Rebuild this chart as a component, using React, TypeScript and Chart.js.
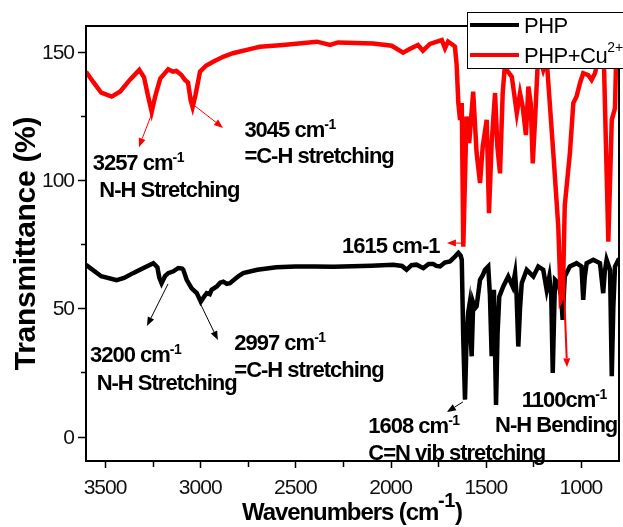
import React, { useEffect, useRef } from 'react';
import { Chart, registerables } from 'chart.js';

Chart.register(...registerables);

// ---- data ----
const phpWavenumbers = [
  3600, 3520, 3439, 3400, 3353, 3290, 3246, 3225, 3215, 3203, 3185, 3168, 3141, 3115, 3095, 3089, 3071, 3045,
  3018, 2997, 2980, 2966, 2950, 2940, 2913, 2895, 2879, 2860, 2844, 2800, 2774, 2700, 2600, 2500, 2400, 2300,
  2100, 1986, 1940, 1916, 1890, 1863, 1845, 1828, 1800, 1776, 1760, 1740, 1715, 1688, 1670, 1653, 1644, 1632,
  1626, 1618, 1609, 1601, 1593, 1587, 1574, 1566, 1557, 1548, 1530, 1515, 1504, 1487, 1478, 1469, 1462, 1457,
  1446, 1438, 1429, 1408, 1382, 1359, 1346, 1338, 1329, 1320, 1311, 1285, 1265, 1250, 1224, 1198, 1180, 1166,
  1156, 1148, 1140, 1136, 1119, 1104, 1096, 1090, 1085, 1058, 1023, 997, 988, 980, 970, 935, 900, 883, 875, 865,
  847, 838, 830, 821, 803, 800,
];
const phpTransmittance = [
  66.9, 62.5, 61, 61.8, 63.7, 66, 67.6, 66, 62, 59.8, 62.5, 63.7, 64.4, 65.7, 65.5, 65, 61.1, 57.8,
  55.9, 52.6, 54.5, 55.9, 55.5, 57.2, 58.5, 60, 60.4, 59.5, 59.8, 62.5, 63.7, 65, 66, 66.3, 66.3, 66.2,
  66.6, 67, 66.5, 65, 66.8, 67, 66.3, 65.7, 67.3, 67.3, 66.5, 66.3, 67.8, 68.3, 69.5, 70.9, 71.6, 70.5,
  69, 37.8, 14.4, 37.8, 48, 50.8, 31.3, 52.1, 50, 50.8, 61.1, 63, 65, 66.3, 55, 31.3, 50, 57.2,
  12.3, 40, 54.5, 58.5, 62.4, 58.5, 63.7, 55, 35.1, 50, 59.8, 65, 63.5, 62.4, 66.3, 65, 57.2, 62.4,
  55, 24.8, 50, 61.1, 59.8, 55, 45.5, 55, 62.4, 66.3, 67.6, 66.3, 53.3, 62, 67.6, 68.9, 67.6, 55.9, 64, 68.9,
  65, 23.5, 50, 66.3, 68.9, 69,
];

const cuWavenumbers = [
  3600, 3560, 3520, 3465, 3420, 3370, 3320, 3295, 3275, 3255, 3235, 3210, 3168, 3143, 3125, 3100, 3080, 3064,
  3050, 3040, 3025, 3001, 2970, 2932, 2880, 2828, 2723, 2686, 2565, 2387, 2318, 2276, 2092, 1994, 1934, 1900,
  1856, 1830, 1793, 1731, 1714, 1698, 1672, 1662, 1653, 1644, 1635, 1629, 1626, 1618, 1601, 1587, 1566, 1548,
  1530, 1516, 1495, 1483, 1469, 1451, 1439, 1425, 1411, 1398, 1390, 1363, 1337, 1320, 1306, 1289, 1276, 1264,
  1253, 1241, 1224, 1198, 1180, 1145, 1119, 1106, 1095, 1085, 1058, 1040, 1023, 1005, 988, 962, 944, 926, 900,
  880, 856, 838, 821, 815, 803,
];
const cuTransmittance = [
  142.2, 138, 134, 132.5, 134.5, 139, 142.9, 140, 133, 126.6, 133, 139.5, 143.1, 142.2, 142.5, 141, 139, 137.9,
  131, 128.4, 133, 142.2, 144.5, 146.1, 148, 149.4, 151.3, 151.9, 152.6, 153.9, 152.6, 153.6, 153.2, 152.3, 149.6, 151,
  152.6, 150.4, 153, 154.5, 151.3, 153.9, 152.6, 152, 145, 130, 123.4, 128, 130, 74, 124.7, 114.4, 134.4, 110.5,
  98.8, 113, 123.4, 87.1, 114.4, 133.9, 113, 102.6, 133.8, 146, 142.9, 140.2, 126, 133.8, 128.6, 117.5, 136.4, 130,
  106.5, 123.4, 150, 142.9, 147, 110.5, 81.8, 53.2, 55, 90, 110.4, 130, 132.5, 137.7, 141.6, 140.9, 139, 141.6, 150,
  148, 76, 123.4, 128, 148, 150,
];

const seriesLabels = ['PHP', 'PHP+Cu'];
const seriesColors = ['#000000', '#ff0000'];

const xMajorTicks = [3500, 3000, 2500, 2000, 1500, 1000];
const xMinorTicks = [3250, 2750, 2250, 1750, 1250];
const yMajorTicks = [0, 50, 100, 150];
const yMinorTicks = [25, 75, 125];

// annotation arrows: [wavenumber, transmittance]
const arrowFrom = [
  [3253, 126.1], [3027, 128.8], [1620, 75.4], [1090, 60],
  [3169, 59.5], [3001, 52.1], [1620, 13.5],
];
const arrowTo = [
  [3322, 112.8], [2880, 120.3], [1704, 75.4], [1073, 27],
  [3280, 43.1], [2907, 37.6], [1704, 9.6],
];
const arrowColors = ['#ff0000', '#ff0000', '#ff0000', '#ff0000', '#000000', '#000000', '#000000'];

// annotation labels: [wavenumber, transmittance] of the left baseline point
const noteAnchors = [
  [3565, 103.9], [3530, 93.4], [2768, 116.7], [2768, 106.6], [2255, 71.5],
  [3579, 29.2], [3544, 18.1], [2821, 33.7], [2821, 23.3],
  [2117, 1.3], [2117, -9.1], [1311, 11.6], [1451, 1.9],
];
const noteTexts = [
  '3257 cm', 'N-H Stretching', '3045 cm', '=C-H stretching', '1615 cm-1',
  '3200 cm', 'N-H Stretching', '2997 cm', '=C-H stretching',
  '1608 cm', 'C=N vib stretching', '1100cm', 'N-H Bending',
];
const noteSups = ['-1', '', '-1', '', '', '-1', '', '-1', '', '-1', '', '-1', ''];

const FONT = '"Liberation Sans", Arial, sans-serif';

function drawRich(ctx: CanvasRenderingContext2D, x: number, y: number, parts: { t: string; font: string; dy: number; ls: string }[], measureOnly = false) {
  let cx = x;
  for (const p of parts) {
    ctx.font = p.font;
    (ctx as any).letterSpacing = p.ls;
    if (!measureOnly) ctx.fillText(p.t, cx, y + p.dy);
    cx += ctx.measureText(p.t).width;
  }
  return cx - x;
}

const decorPlugin = {
  id: 'decor',
  afterDatasetsDraw(chart: any) {
    const { ctx, chartArea: a, scales } = chart;
    const xs = scales.x;
    const ys = scales.y;
    ctx.save();
    ctx.fillStyle = '#000';
    ctx.strokeStyle = '#000';

    // frame
    ctx.lineWidth = 2;
    ctx.strokeRect(a.left, a.top, a.right - a.left, a.bottom - a.top);

    // ticks
    ctx.lineWidth = 1.5;
    ctx.beginPath();
    for (const v of xMajorTicks) {
      const px = Math.round(xs.getPixelForValue(v)) + 0.5;
      ctx.moveTo(px, a.bottom); ctx.lineTo(px, a.bottom + 7);
    }
    for (const v of xMinorTicks) {
      const px = Math.round(xs.getPixelForValue(v)) + 0.5;
      ctx.moveTo(px, a.bottom); ctx.lineTo(px, a.bottom + 6);
    }
    for (const v of yMajorTicks) {
      const py = Math.round(ys.getPixelForValue(v)) + 0.5;
      ctx.moveTo(a.left, py); ctx.lineTo(a.left - 8, py);
    }
    for (const v of yMinorTicks) {
      const py = Math.round(ys.getPixelForValue(v)) + 0.5;
      ctx.moveTo(a.left, py); ctx.lineTo(a.left - 5, py);
    }
    ctx.stroke();

    // tick labels
    ctx.font = `21px ${FONT}`;
    (ctx as any).letterSpacing = '-1px';
    ctx.fillStyle = '#111';
    ctx.textBaseline = 'alphabetic';
    ctx.textAlign = 'center';
    for (const v of xMajorTicks) {
      ctx.fillText(String(v), xs.getPixelForValue(v), a.bottom + 32.5);
    }
    ctx.textAlign = 'right';
    for (const v of yMajorTicks) {
      ctx.fillText(String(v), a.left - 12, ys.getPixelForValue(v) + 7);
    }

    // axis titles
    ctx.fillStyle = '#000';
    ctx.textAlign = 'left';
    const xt = [
      { t: 'Wavenumbers (cm', font: `bold 24px ${FONT}`, dy: 0, ls: '-1.1px' },
      { t: '-1', font: `bold 20px ${FONT}`, dy: -13, ls: '-0.5px' },
      { t: ')', font: `bold 24px ${FONT}`, dy: 0, ls: '0px' },
    ];
    const w = drawRich(ctx, 0, 0, xt, true);
    drawRich(ctx, (a.left + a.right) / 2 - w / 2, 520, xt);

    ctx.save();
    ctx.translate(35, (a.top + a.bottom) / 2);
    ctx.rotate(-Math.PI / 2);
    ctx.font = `bold 30px ${FONT}`;
    (ctx as any).letterSpacing = '-0.3px';
    ctx.textAlign = 'center';
    ctx.fillText('Transmittance (%)', 0, 0);
    ctx.restore();

    // arrows
    for (let i = 0; i < arrowFrom.length; i++) {
      const x0 = xs.getPixelForValue(arrowFrom[i][0]);
      const y0 = ys.getPixelForValue(arrowFrom[i][1]);
      const x1 = xs.getPixelForValue(arrowTo[i][0]);
      const y1 = ys.getPixelForValue(arrowTo[i][1]);
      const ang = Math.atan2(y1 - y0, x1 - x0);
      const hl = 9, hw = 3.5;
      const bx = x1 - hl * Math.cos(ang), by = y1 - hl * Math.sin(ang);
      ctx.strokeStyle = arrowColors[i];
      ctx.fillStyle = arrowColors[i];
      ctx.lineWidth = i === 3 ? 2 : 1;
      ctx.beginPath();
      ctx.moveTo(x0, y0); ctx.lineTo(bx, by);
      ctx.stroke();
      ctx.beginPath();
      ctx.moveTo(x1, y1);
      ctx.lineTo(bx + hw * Math.sin(ang), by - hw * Math.cos(ang));
      ctx.lineTo(bx - hw * Math.sin(ang), by + hw * Math.cos(ang));
      ctx.closePath();
      ctx.fill();
    }

    // notes
    ctx.fillStyle = '#000';
    ctx.textAlign = 'left';
    for (let i = 0; i < noteTexts.length; i++) {
      const px = xs.getPixelForValue(noteAnchors[i][0]);
      const py = ys.getPixelForValue(noteAnchors[i][1]);
      const parts = [{ t: noteTexts[i], font: `bold 22px ${FONT}`, dy: 0, ls: '-1px' }];
      if (noteSups[i]) parts.push({ t: noteSups[i], font: `bold 14px ${FONT}`, dy: -8, ls: '-0.5px' });
      drawRich(ctx, px, py, parts);
    }

    // legend
    const lx = 467, ly = 12, lb = 68;
    ctx.fillStyle = '#fff';
    ctx.fillRect(lx, ly, 200, lb - ly);
    ctx.strokeStyle = '#000';
    ctx.lineWidth = 1;
    ctx.strokeRect(lx + 0.5, ly + 0.5, 200, lb - ly);
    const rows = [25, 55];
    for (let i = 0; i < seriesLabels.length; i++) {
      ctx.strokeStyle = seriesColors[i];
      ctx.lineWidth = 4;
      ctx.beginPath();
      ctx.moveTo(470, rows[i]); ctx.lineTo(519, rows[i]);
      ctx.stroke();
      ctx.fillStyle = '#000';
      const parts = [{ t: seriesLabels[i], font: `22px ${FONT}`, dy: 0, ls: '-0.5px' }];
      if (i === 1) parts.push({ t: '2+', font: `14px ${FONT}`, dy: -11, ls: '0px' });
      drawRich(ctx, 524, rows[i] + 8, parts);
    }

    ctx.restore();
  },
};

export default function App() {
  const ref = useRef<HTMLCanvasElement | null>(null);
  useEffect(() => {
    if (!ref.current) return;
    const chart = new Chart(ref.current, {
      type: 'line',
      data: {
        datasets: [
          {
            label: seriesLabels[1],
            data: cuWavenumbers.map((x, i) => ({ x, y: cuTransmittance[i] })),
            borderColor: seriesColors[1],
            borderWidth: 4.5,
            pointRadius: 0,
            tension: 0,
            fill: false,
          },
          {
            label: seriesLabels[0],
            data: phpWavenumbers.map((x, i) => ({ x, y: phpTransmittance[i] })),
            borderColor: seriesColors[0],
            borderWidth: 4.5,
            pointRadius: 0,
            tension: 0,
            fill: false,
          },
        ],
      },
      options: {
        animation: false,
        responsive: false,
        devicePixelRatio: 1,
        layout: { padding: { left: 86, top: 26, right: 4, bottom: 66 } },
        plugins: { legend: { display: false }, tooltip: { enabled: false } },
        scales: {
          x: { type: 'linear', display: false, min: 800, max: 3600, reverse: true },
          y: { type: 'linear', display: false, min: -9.5, max: 160 },
        },
      },
      plugins: [decorPlugin],
    });
    return () => chart.destroy();
  }, []);
  return (
    <div style={{ position: 'fixed', left: 0, top: 0, width: 623, height: 527, background: '#fff' }}>
      <canvas ref={ref} width={623} height={527} style={{ width: 623, height: 527, display: 'block' }} />
    </div>
  );
}
